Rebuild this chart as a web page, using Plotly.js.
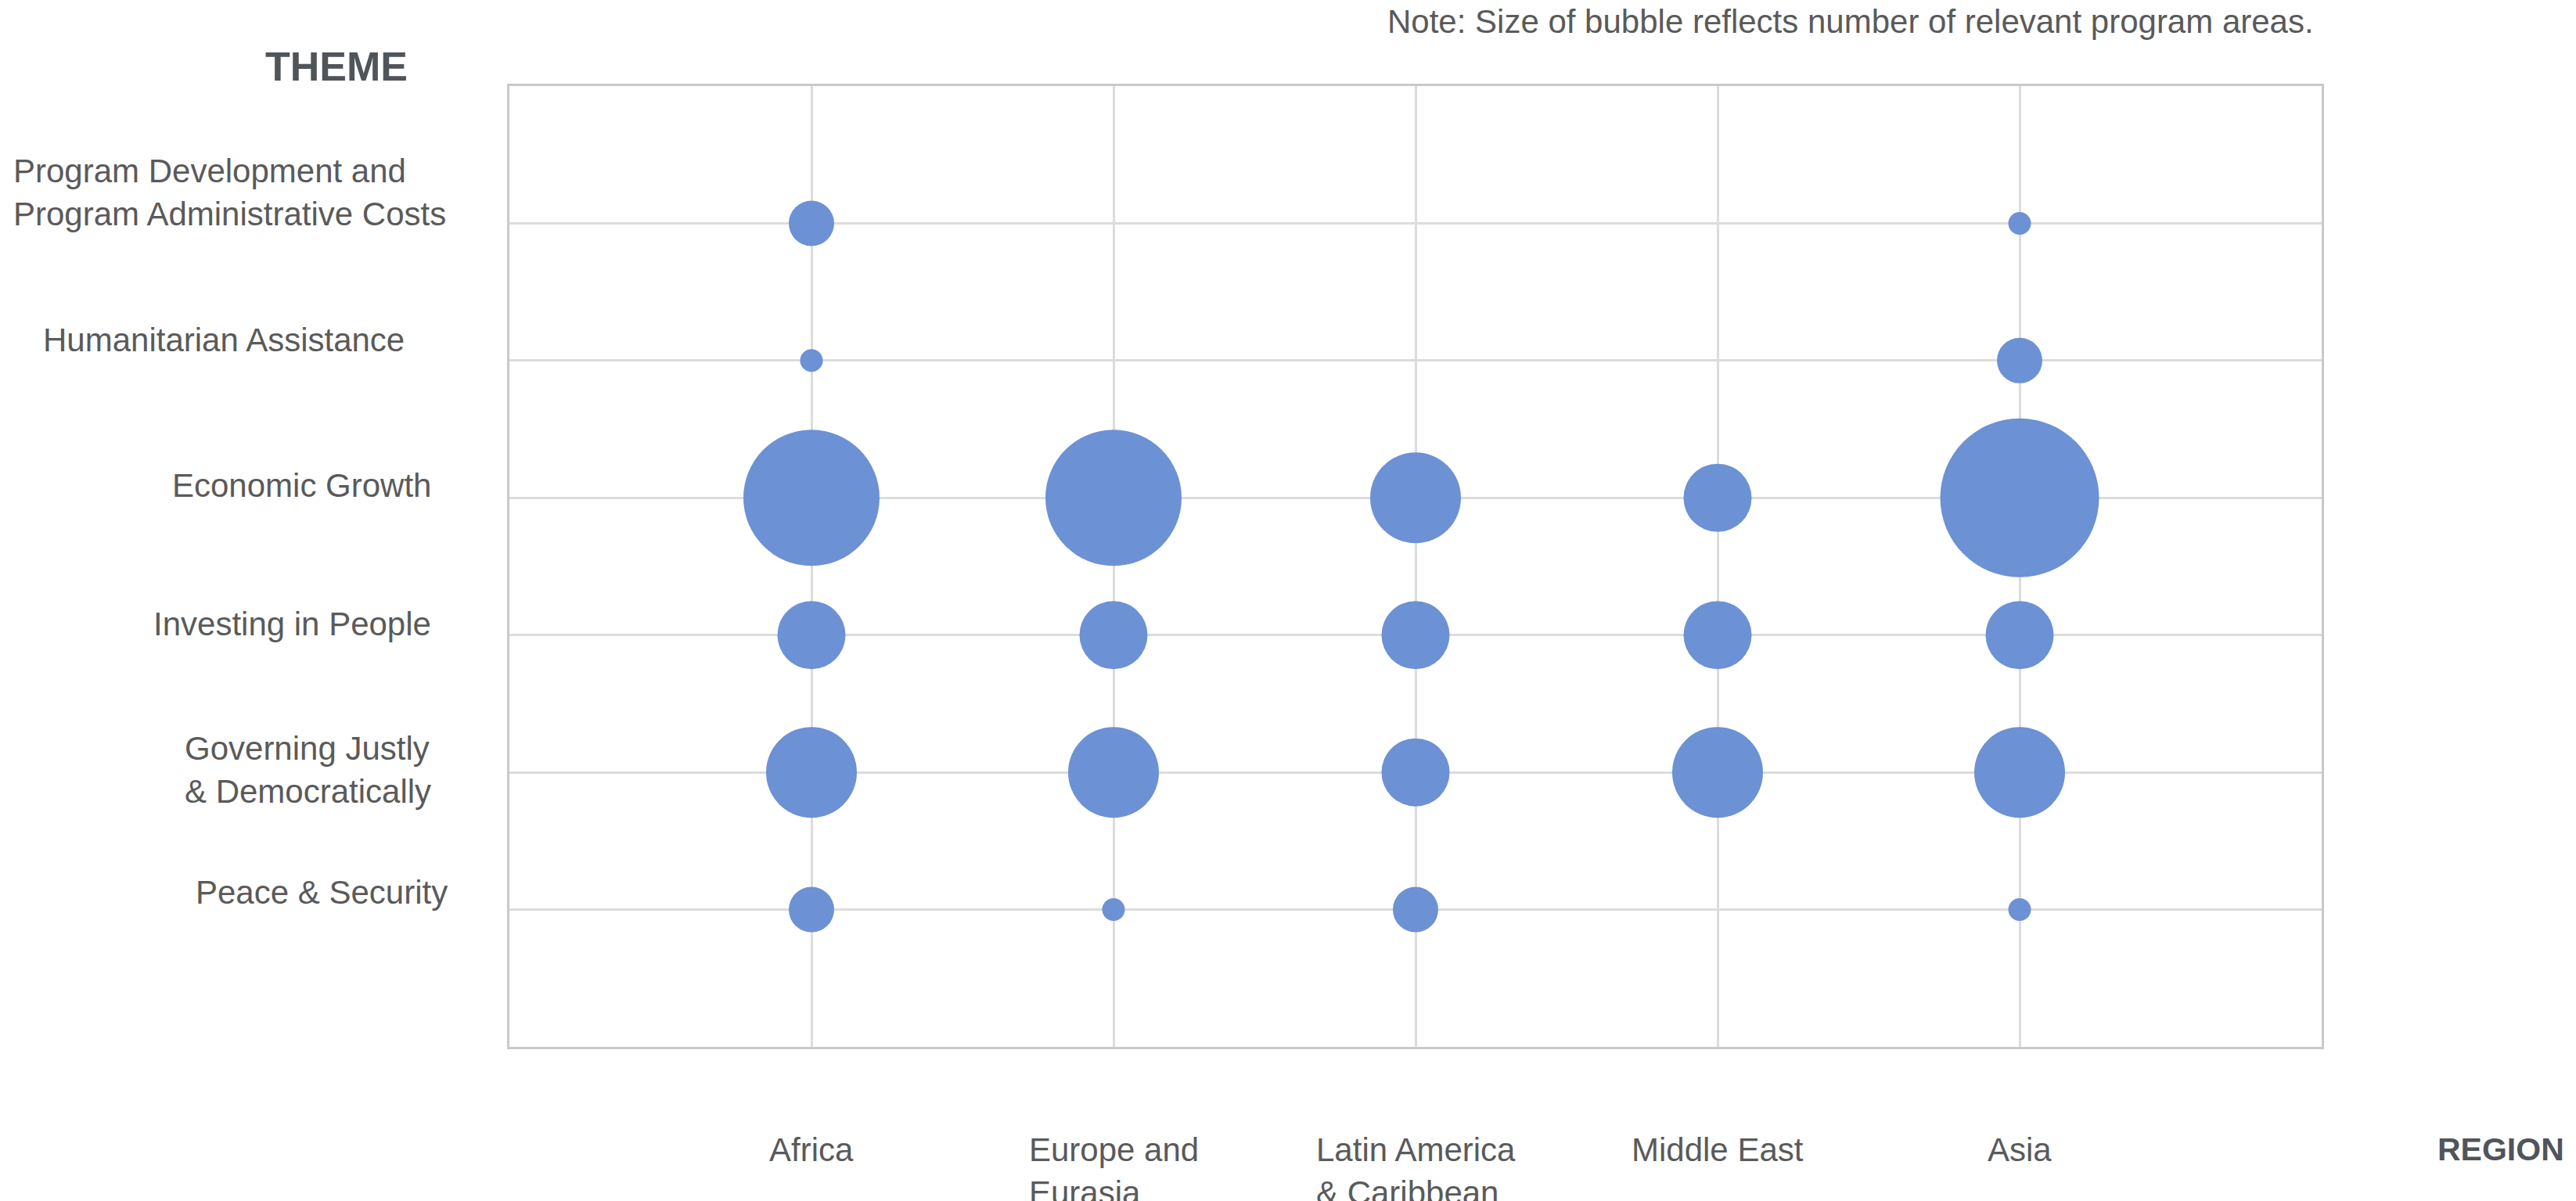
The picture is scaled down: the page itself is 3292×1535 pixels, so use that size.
<!DOCTYPE html>
<html>
<head>
<meta charset="utf-8">
<script src="https://cdn.plot.ly/plotly-3.0.1.min.js"></script>
<style>
  html, body { margin: 0; padding: 0; background: #ffffff; }
  #chart { width: 3292px; height: 1535px; }
</style>
</head>
<body>
<div id="chart"></div>
<script>
// ---- Data ----
const regions = ["Africa", "Europe and Eurasia", "Latin America & Caribbean", "Middle East", "Asia"];
const regionLabels = ["Africa", "Europe and<br>Eurasia", "Latin America<br>& Caribbean", "Middle East", "Asia"];

// themes listed bottom -> top
const themes = ["Peace & Security", "Governing Justly & Democratically", "Investing in People",
                "Economic Growth", "Humanitarian Assistance",
                "Program Development and Program Administrative Costs"];
const themeLabels = ["Peace & Security", "Governing Justly<br>& Democratically", "Investing in People",
                     "Economic Growth", "Humanitarian Assistance",
                     "Program Development and<br>Program Administrative Costs"];

// number of relevant program areas, per region (Africa, Europe, LatAm, Middle East, Asia)
const peaceSecurity   = [2, 1, 2, null, 1];
const governingJustly = [4, 4, 3, 4, 4];
const investingPeople = [3, 3, 3, 3, 3];
const economicGrowth  = [6, 6, 4, 3, 7];
const humanitarian    = [1, null, null, null, 2];
const programDev      = [2, null, null, null, 1];

const seriesByTheme = [peaceSecurity, governingJustly, investingPeople, economicGrowth, humanitarian, programDev];

// ---- label placement (layout styling only) ----
const themeLabelXShift = [-77, -98, -98, -98, -132, -79];
const themeLabelYShift = [22, 3, 14, 16, 26, 39];

// ---- Build one bubble trace from the arrays ----
const xs = [], ys = [], sizes = [];
seriesByTheme.forEach((vals, ti) => {
  vals.forEach((v, ri) => {
    if (v !== null && v !== undefined) {
      xs.push(regions[ri]);
      ys.push(themes[ti]);
      sizes.push(v);
    }
  });
});

const FONT = "Liberation Sans, Arial, Helvetica, sans-serif";
const TXT = "#5a5a5a";
const HEAD = "#50555a";

const trace = {
  type: "scatter",
  mode: "markers",
  x: xs,
  y: ys,
  marker: {
    size: sizes,
    sizemode: "diameter",
    sizeref: 1 / 29,
    color: "#6c91d4",
    opacity: 1,
    line: { width: 0 }
  },
  hoverinfo: "x+y+text",
  text: sizes.map(String),
  showlegend: false
};

const annotations = [];
themes.forEach((t, i) => {
  annotations.push({
    xref: "paper", x: 0, xanchor: "right", xshift: themeLabelXShift[i],
    yref: "y", y: t, yanchor: "middle", yshift: themeLabelYShift[i],
    text: themeLabels[i], align: "left", showarrow: false,
    font: { family: FONT, size: 42, color: TXT }
  });
});
regions.forEach((r, i) => {
  annotations.push({
    xref: "x", x: r, xanchor: "center",
    yref: "paper", y: 0, yanchor: "top", yshift: -106,
    text: regionLabels[i], align: "left", showarrow: false,
    font: { family: FONT, size: 42, color: TXT }
  });
});
annotations.push({
  xref: "paper", x: 1, xanchor: "left", xshift: 146,
  yref: "paper", y: 0, yanchor: "top", yshift: -106,
  text: "<b>REGION</b>", showarrow: false,
  font: { family: FONT, size: 41, color: HEAD }
});
annotations.push({
  xref: "paper", x: 0, xanchor: "center", xshift: -221,
  yref: "paper", y: 1, yanchor: "bottom", yshift: -6,
  text: "<b>THEME</b>", showarrow: false,
  font: { family: FONT, size: 52, color: HEAD }
});
annotations.push({
  xref: "paper", x: 1, xanchor: "right", xshift: -8,
  yref: "paper", y: 1, yanchor: "bottom", yshift: 57,
  text: "Note: Size of bubble reflects number of relevant program areas.", showarrow: false,
  font: { family: FONT, size: 42, color: TXT }
});

const layout = {
  width: 3292,
  height: 1535,
  margin: { l: 651, r: 325, t: 110, b: 197, pad: 0 },
  paper_bgcolor: "#ffffff",
  plot_bgcolor: "#ffffff",
  showlegend: false,
  xaxis: {
    type: "category",
    categoryorder: "array",
    categoryarray: regions,
    range: [-1, 5],
    showticklabels: false,
    ticks: "",
    showgrid: true,
    gridcolor: "#dcdcdc",
    gridwidth: 3,
    zeroline: false,
    showline: true,
    mirror: true,
    linecolor: "#c9c9c9",
    linewidth: 3,
    fixedrange: true
  },
  yaxis: {
    type: "category",
    categoryorder: "array",
    categoryarray: themes,
    range: [-1, 6],
    showticklabels: false,
    ticks: "",
    showgrid: true,
    gridcolor: "#dcdcdc",
    gridwidth: 3,
    zeroline: false,
    showline: true,
    mirror: true,
    linecolor: "#c9c9c9",
    linewidth: 3,
    fixedrange: true
  },
  annotations: annotations
};

Plotly.newPlot("chart", [trace], layout, { displayModeBar: false, staticPlot: true });
</script>
</body>
</html>
